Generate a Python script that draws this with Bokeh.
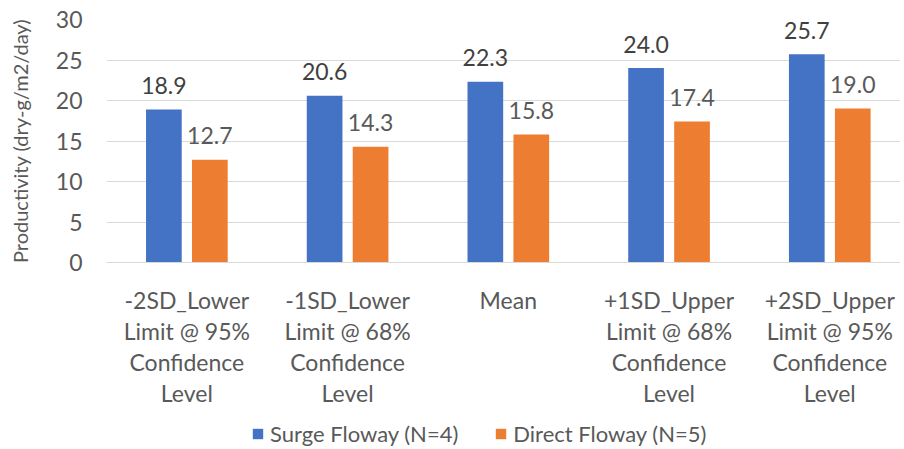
from bokeh.plotting import figure
from bokeh.layouts import column
from bokeh.models import ColumnDataSource, LabelSet, Legend, LegendItem, FixedTicker, Range1d
from bokeh.core.properties import value
from bokeh.embed import file_html
from bokeh.resources import INLINE

categories = [
    "-2SD_Lower\nLimit @ 95%\nConfidence\nLevel",
    "-1SD_Lower\nLimit @ 68%\nConfidence\nLevel",
    "Mean",
    "+1SD_Upper\nLimit @ 68%\nConfidence\nLevel",
    "+2SD_Upper\nLimit @ 95%\nConfidence\nLevel",
]
surge = [18.9, 20.6, 22.3, 24.0, 25.7]
direct = [12.7, 14.3, 15.8, 17.4, 19.0]
series_names = ["Surge Floway (N=4)", "Direct Floway (N=5)"]
y_ticks = [0, 5, 10, 15, 20, 25, 30]

FONT = "Lato"
GRAY = "#595959"
BLUE = "#4472C4"
ORANGE = "#ED7D31"
OFF = 0.143
BW = 0.222
W = 900

idx = list(range(len(categories)))
src_s = ColumnDataSource(dict(x=[i - OFF for i in idx], y=surge, t=[f"{v:.1f}" for v in surge]))
src_d = ColumnDataSource(dict(x=[i + OFF for i in idx], y=direct, t=[f"{v:.1f}" for v in direct]))

p = figure(width=W, height=416, output_backend="svg", toolbar_location=None,
           x_range=Range1d(-0.5, 4.44), y_range=Range1d(0, 30),
           min_border_left=106, min_border_right=0, min_border_top=19, min_border_bottom=154)
p.outline_line_color = None
p.background_fill_color = "white"
p.border_fill_color = "white"

r1 = p.vbar(x="x", top="y", width=BW, source=src_s, fill_color=BLUE, line_color=None)
r2 = p.vbar(x="x", top="y", width=BW, source=src_d, fill_color=ORANGE, line_color=None)

p.add_layout(LabelSet(x="x", y="y", text="t", source=src_s, text_align="center", text_baseline="middle",
                      y_offset=24, text_font=value(FONT), text_font_size=value("23px"), text_color="#404040"))
p.add_layout(LabelSet(x="x", y="y", text="t", source=src_d, text_align="center", text_baseline="middle",
                      y_offset=24, text_font=value(FONT), text_font_size=value("23px"), text_color=GRAY))

p.xgrid.grid_line_color = None
p.ygrid.grid_line_color = "#D9D9D9"
p.ygrid.ticker = FixedTicker(ticks=y_ticks)

p.yaxis.ticker = FixedTicker(ticks=y_ticks)
p.yaxis.axis_line_color = None
p.yaxis.major_tick_line_color = None
p.yaxis.minor_tick_line_color = None
p.yaxis.major_tick_in = 0
p.yaxis.major_tick_out = 0
p.yaxis.major_label_text_font = FONT
p.yaxis.major_label_text_font_size = "23px"
p.yaxis.major_label_text_color = GRAY
p.yaxis.major_label_standoff = 24
p.yaxis.axis_label = "Productivity (dry-g/m2/day)"
p.yaxis.axis_label_text_font = FONT
p.yaxis.axis_label_text_font_size = "20px"
p.yaxis.axis_label_text_font_style = "normal"
p.yaxis.axis_label_text_color = GRAY
p.yaxis.axis_label_standoff = 21

p.xaxis.ticker = FixedTicker(ticks=idx)
p.xaxis.major_label_overrides = {i: c for i, c in zip(idx, categories)}
p.xaxis.axis_line_color = "#D9D9D9"
p.xaxis.major_tick_line_color = None
p.xaxis.minor_tick_line_color = None
p.xaxis.major_tick_in = 0
p.xaxis.major_tick_out = 0
p.xaxis.major_label_text_font = FONT
p.xaxis.major_label_text_font_size = "23px"
p.xaxis.major_label_text_color = GRAY
p.xaxis.major_label_text_line_height = 1.11
p.xaxis.major_label_standoff = 23

# legend strip below the chart (its own renderers lie outside its visible range)
q = figure(width=W, height=31, output_backend="svg", toolbar_location=None,
           x_range=Range1d(100, 101), y_range=Range1d(100, 101),
           min_border_left=0, min_border_right=0, min_border_top=0, min_border_bottom=0)
q.axis.visible = False
q.grid.visible = False
q.outline_line_color = None
l1 = q.vbar(x=idx, top=surge, width=BW, fill_color=BLUE, line_color=None)
l2 = q.vbar(x=idx, top=direct, width=BW, fill_color=ORANGE, line_color=None)
legend = Legend(items=[LegendItem(label=series_names[0], renderers=[l1]),
                       LegendItem(label=series_names[1], renderers=[l2])],
                orientation="horizontal", location=(145, 0),
                label_text_font=FONT, label_text_font_size="22px", label_text_color=GRAY,
                glyph_width=13, glyph_height=13, label_standoff=6, spacing=36,
                padding=2, margin=0, border_line_color=None, background_fill_alpha=0)
q.add_layout(legend, "center")

layout = column(p, q, spacing=0)
open("out.html", "w").write(file_html(layout, INLINE))
